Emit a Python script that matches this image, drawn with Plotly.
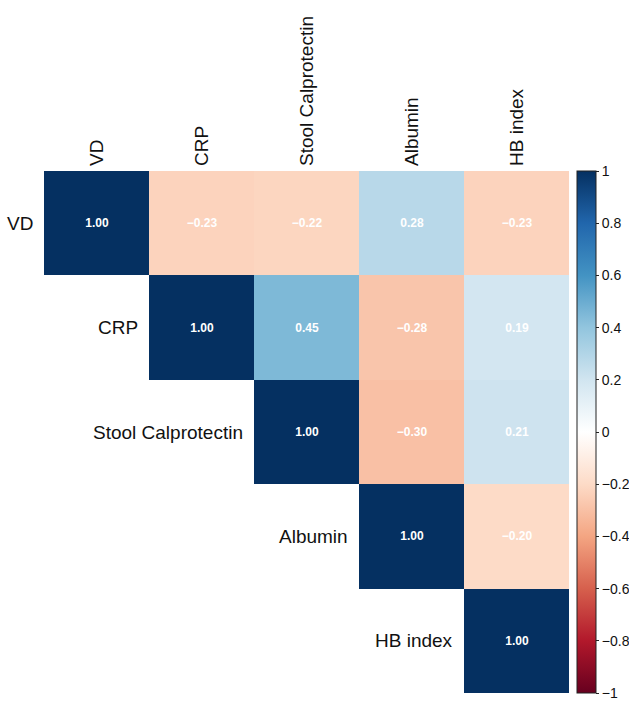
import plotly.graph_objects as go
import math

variables = ["VD", "CRP", "Stool Calprotectin", "Albumin", "HB index"]
row_VD = [1.00, -0.23, -0.22, 0.28, -0.23]
row_CRP = [None, 1.00, 0.45, -0.28, 0.19]
row_SC = [None, None, 1.00, -0.30, 0.21]
row_Alb = [None, None, None, 1.00, -0.20]
row_HB = [None, None, None, None, 1.00]
rows = [row_VD, row_CRP, row_SC, row_Alb, row_HB]

cbar_ticks = [1, 0.8, 0.6, 0.4, 0.2, 0, -0.2, -0.4, -0.6, -0.8, -1]

def fmt(v):
    if v is None:
        return ""
    s = f"{v:.2f}"
    return "<b>" + s.replace("-", "\u2212") + "</b>"

z = [[(math.nan if v is None else v) for v in r] for r in rows]
text = [[fmt(v) for v in r] for r in rows]

colorscale = [
    [0.0, "#67001F"], [0.1, "#B2182B"], [0.2, "#D6604D"], [0.3, "#F4A582"],
    [0.4, "#FDDBC7"], [0.5, "#FFFFFF"], [0.6, "#D1E5F0"], [0.7, "#92C5DE"],
    [0.8, "#4393C3"], [0.9, "#2166AC"], [1.0, "#053061"],
]

def tick_txt(v):
    s = f"{v:g}"
    return s.replace("-", "\u2212")

n = len(variables)
FONT = "Liberation Sans"

fig = go.Figure(go.Heatmap(
    z=z, x=variables, y=variables, text=text, texttemplate="%{text}",
    textfont=dict(color="white", size=12, family=FONT),
    colorscale=colorscale, zmin=-1, zmax=1, hoverongaps=False,
    colorbar=dict(
        x=1.0152, xanchor="left", y=0.5, yanchor="middle", len=1.0, lenmode="fraction",
        thickness=19, thicknessmode="pixels", outlinecolor="#222", outlinewidth=1,
        tickvals=cbar_ticks, ticktext=[tick_txt(v) for v in cbar_ticks],
        ticks="outside", ticklen=3, tickcolor="#222",
        tickfont=dict(size=14, color="#111", family=FONT),
        xpad=0, ypad=0,
    ),
))

annotations = []
for i, name in enumerate(variables):
    annotations.append(dict(
        x=i - 0.5, y=i, xref="x", yref="y", text=name, showarrow=False,
        xanchor="right", yanchor="middle", xshift=-9,
        font=dict(size=19, color="#111", family=FONT),
    ))

fig.update_layout(
    width=629, height=702,
    margin=dict(l=44, r=60, t=171, b=9, autoexpand=False),
    paper_bgcolor="white", plot_bgcolor="white",
    annotations=annotations,
    xaxis=dict(side="top", tickangle=-90, showgrid=False, zeroline=False, ticks="",
               ticklabelstandoff=4, showline=False, automargin=False,
               range=[-0.5, n - 0.5], autorange=False,
               tickfont=dict(size=19, color="#111", family=FONT)),
    yaxis=dict(showticklabels=False, showgrid=False, zeroline=False,
               ticks="", showline=False, automargin=False,
               range=[n - 0.5, -0.5], autorange=False),
)

fig.write_html(
    "out.html",
    config={"displayModeBar": False},
    post_script="document.body.style.margin='0';document.body.style.overflow='hidden';",
)
